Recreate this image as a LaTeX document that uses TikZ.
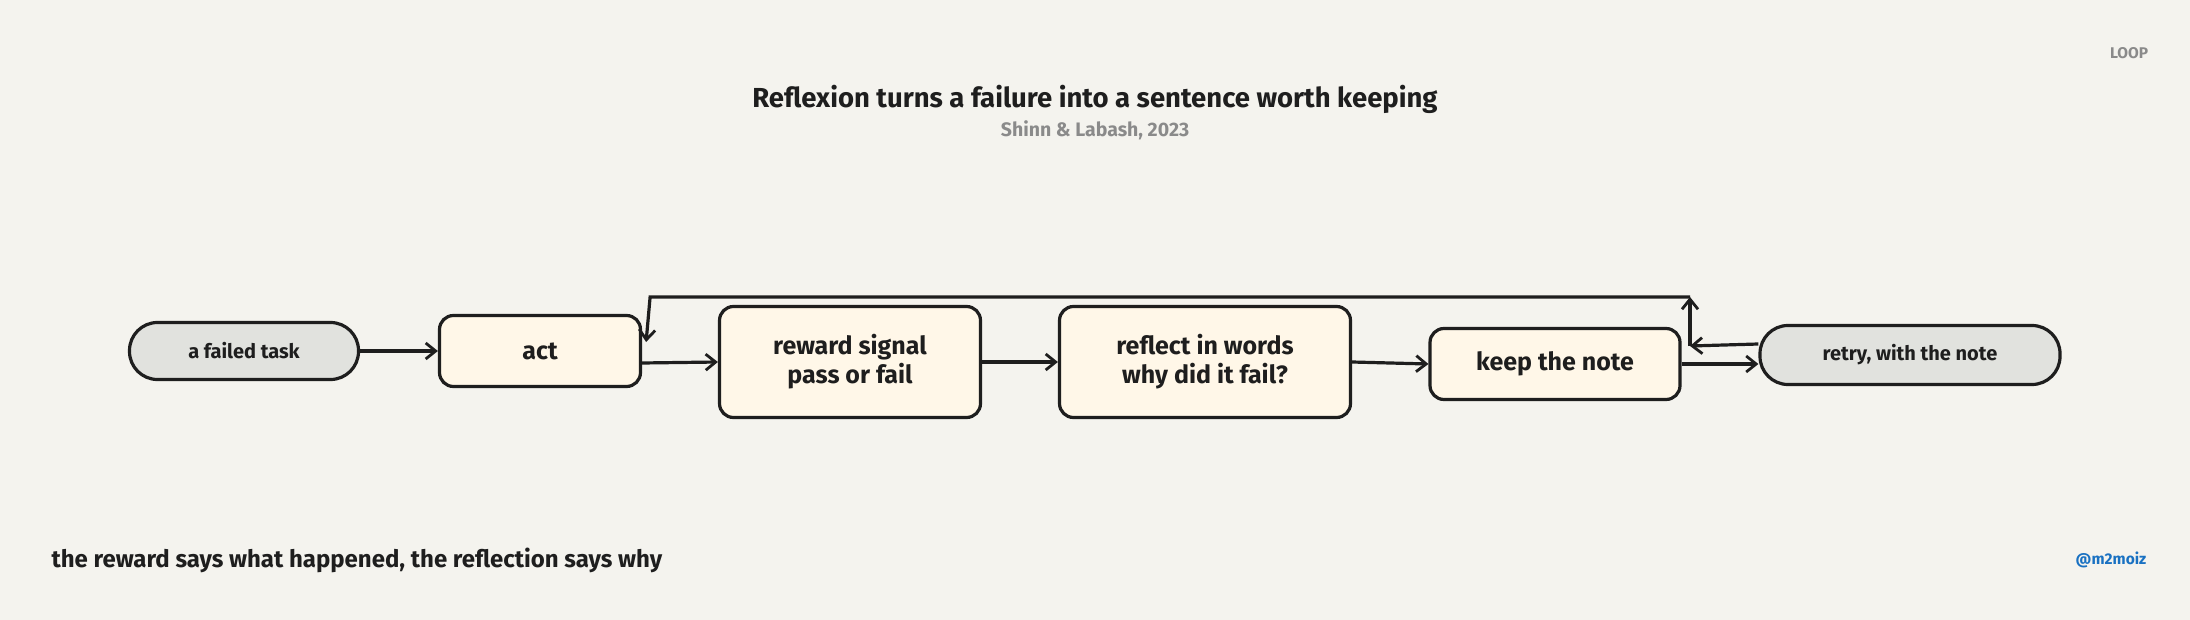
\documentclass[tikz,border=0pt]{standalone}
\usepackage{fontspec}
\setmainfont{Fira Sans}
\usetikzlibrary{arrows.meta}

\definecolor{paper}{HTML}{F4F3EE}
\definecolor{ink}{HTML}{1E1E1E}
\definecolor{cream}{HTML}{FFF7E8}
\definecolor{stone}{HTML}{E1E2DE}
\definecolor{muted}{HTML}{8A8A8A}
\definecolor{handle}{HTML}{1971C2}

\tikzset{
  stagebox/.style={draw=ink, fill=cream, line width=3.2pt, rounded corners=14pt,
    align=center, text=ink, font=\fontsize{25}{29}\selectfont\bfseries},
  pill/.style={draw=ink, fill=stone, line width=3.2pt, rounded corners=28pt,
    align=center, text=ink, font=\fontsize{20}{24}\selectfont\bfseries},
  flow/.style={draw=ink, line width=3.2pt, -{Straight Barb[length=10pt,width=16pt,line width=2.8pt]}}
}

\begin{document}
\begin{tikzpicture}[x=1pt, y=-1pt]
  \fill[paper] (0,0) rectangle (2190,620);
  \useasboundingbox (0,0) rectangle (2190,620);

  % title
  \node[text=ink, font=\fontsize{27.5}{32}\selectfont\bfseries] (title) at (1095,99) {Reflexion turns a failure into a sentence worth keeping};
  \node[text=muted, font=\fontsize{19.5}{23}\selectfont\bfseries] (cite) at (1095,130) {Shinn \& Labash, 2023};
  \node[text=muted, font=\fontsize{15.5}{18}\selectfont\bfseries] (tag) at (2129,53) {LOOP};

  % the loop
  \node[pill, minimum width=229, minimum height=57] (failedtask) at (244,351) {a failed task};
  \node[stagebox, minimum width=201, minimum height=71] (act) at (540,351) {act};
  \node[stagebox, minimum width=261, minimum height=111] (reward) at (850,362) {reward signal\\pass or fail};
  \node[stagebox, minimum width=291, minimum height=111] (reflect) at (1205,362) {reflect in words\\why did it fail?};
  \node[stagebox, minimum width=250, minimum height=71] (keepnote) at (1555,364) {keep the note};
  \node[pill, minimum width=300, minimum height=59] (retry) at (1910,355) {retry, with the note};

  \coordinate (turn) at (1690,346);
  \coordinate (top) at (1690,297);

  \draw[flow] (failedtask.east) -- (act.west);
  \draw[flow] ([yshift=-12pt]act.east) -- (reward.west);
  \draw[flow] (reward.east) -- (reflect.west);
  \draw[flow] (reflect.east) -- (keepnote.west);
  \draw[flow] (keepnote.east) -- ([yshift=-9pt]retry.west);
  \draw[flow] ([yshift=11pt]retry.west) -- (turn);
  \draw[flow] (turn) -- (top);
  \draw[flow] (top) -- ([xshift=8pt]act.east |- top) -- ([xshift=4pt,yshift=9pt]act.east);

  % footer
  \node[anchor=west, text=ink, font=\fontsize{24}{28}\selectfont\bfseries] (moral) at (48,560) {the reward says what happened, the reflection says why};
  \node[text=handle, font=\fontsize{15.5}{18}\selectfont\bfseries] (handle) at (2111,560) {@m2moiz};
\end{tikzpicture}
\end{document}
